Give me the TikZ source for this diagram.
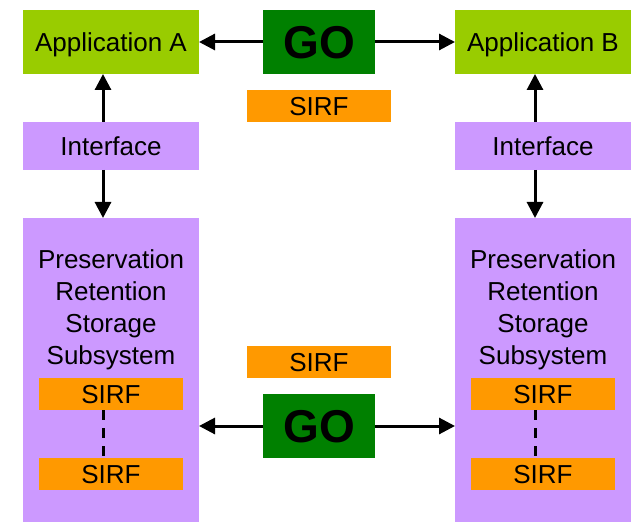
\documentclass[tikz,border=0pt]{standalone}
\usepackage{fontspec}
\setmainfont{Liberation Sans}
\usetikzlibrary{arrows.meta}
\definecolor{appgreen}{HTML}{99CC00}
\definecolor{gogreen}{HTML}{008000}
\definecolor{sirforange}{HTML}{FF9900}
\definecolor{lav}{HTML}{CC99FF}
\tikzset{
  plain/.style={inner sep=0pt, outer sep=0pt, font=\fontsize{26}{32}\selectfont, text=black},
  box/.style={plain, text height=18.6pt, text depth=0pt},
  appbox/.style={box, fill=appgreen, minimum width=176pt, minimum height=64pt},
  gobox/.style={box, fill=gogreen, minimum width=112pt, minimum height=64pt, font=\fontsize{46}{50}\selectfont\bfseries, text height=33pt},
  sirfbox/.style={box, fill=sirforange, minimum width=144pt, minimum height=32pt},
  ifbox/.style={box, fill=lav, minimum width=176pt, minimum height=48pt},
  presbox/.style={plain, fill=lav, minimum width=176pt, minimum height=304pt},
  arr/.style={line width=3pt, -{Triangle[length=16pt,width=16pt]}},
  dashline/.style={line width=3pt, dash pattern=on 10pt off 8pt}
}
\begin{document}
\begin{tikzpicture}[x=1pt,y=-1pt]
\useasboundingbox (0,0) rectangle (634,526);
\coordinate (colA) at (103,0);
\coordinate (colB) at (535,0);
\node[appbox] (appA) at (111,42) {Application A};
\node[appbox] (appB) at (543,42) {Application B};
\node[gobox] (goT) at (319,42) {GO};
\node[sirfbox] (sirfT) at (319,106) {SIRF};
\node[ifbox] (ifA) at (111,146) {Interface};
\node[ifbox] (ifB) at (543,146) {Interface};
\node[presbox] (presA) at (111,370) {};
\node[presbox] (presB) at (543,370) {};
\node[plain, align=center] (presAtxt) at (111,310) {Preservation\\Retention\\Storage\\Subsystem};
\node[plain, align=center] (presBtxt) at (543,310) {Preservation\\Retention\\Storage\\Subsystem};
\node[sirfbox] (sA1) at (111,394) {SIRF};
\node[sirfbox] (sA2) at (111,474) {SIRF};
\node[sirfbox] (sB1) at (543,394) {SIRF};
\node[sirfbox] (sB2) at (543,474) {SIRF};
\node[sirfbox] (sirfM) at (319,362) {SIRF};
\node[gobox] (goB) at (319,426) {GO};
\draw[arr] (goT) -- (appA);
\draw[arr] (goT) -- (appB);
\draw[arr] (ifA.north -| colA) -- (appA.south -| colA);
\draw[arr] (ifB.north -| colB) -- (appB.south -| colB);
\draw[arr] (ifA.south -| colA) -- (presA.north -| colA);
\draw[arr] (ifB.south -| colB) -- (presB.north -| colB);
\draw[arr] (goB) -- (goB.west -| presA.east);
\draw[arr] (goB) -- (goB.east -| presB.west);
\draw[dashline] (sA1.south -| colA) -- (sA2.north -| colA);
\draw[dashline] (sB1.south -| colB) -- (sB2.north -| colB);
\end{tikzpicture}
\end{document}
